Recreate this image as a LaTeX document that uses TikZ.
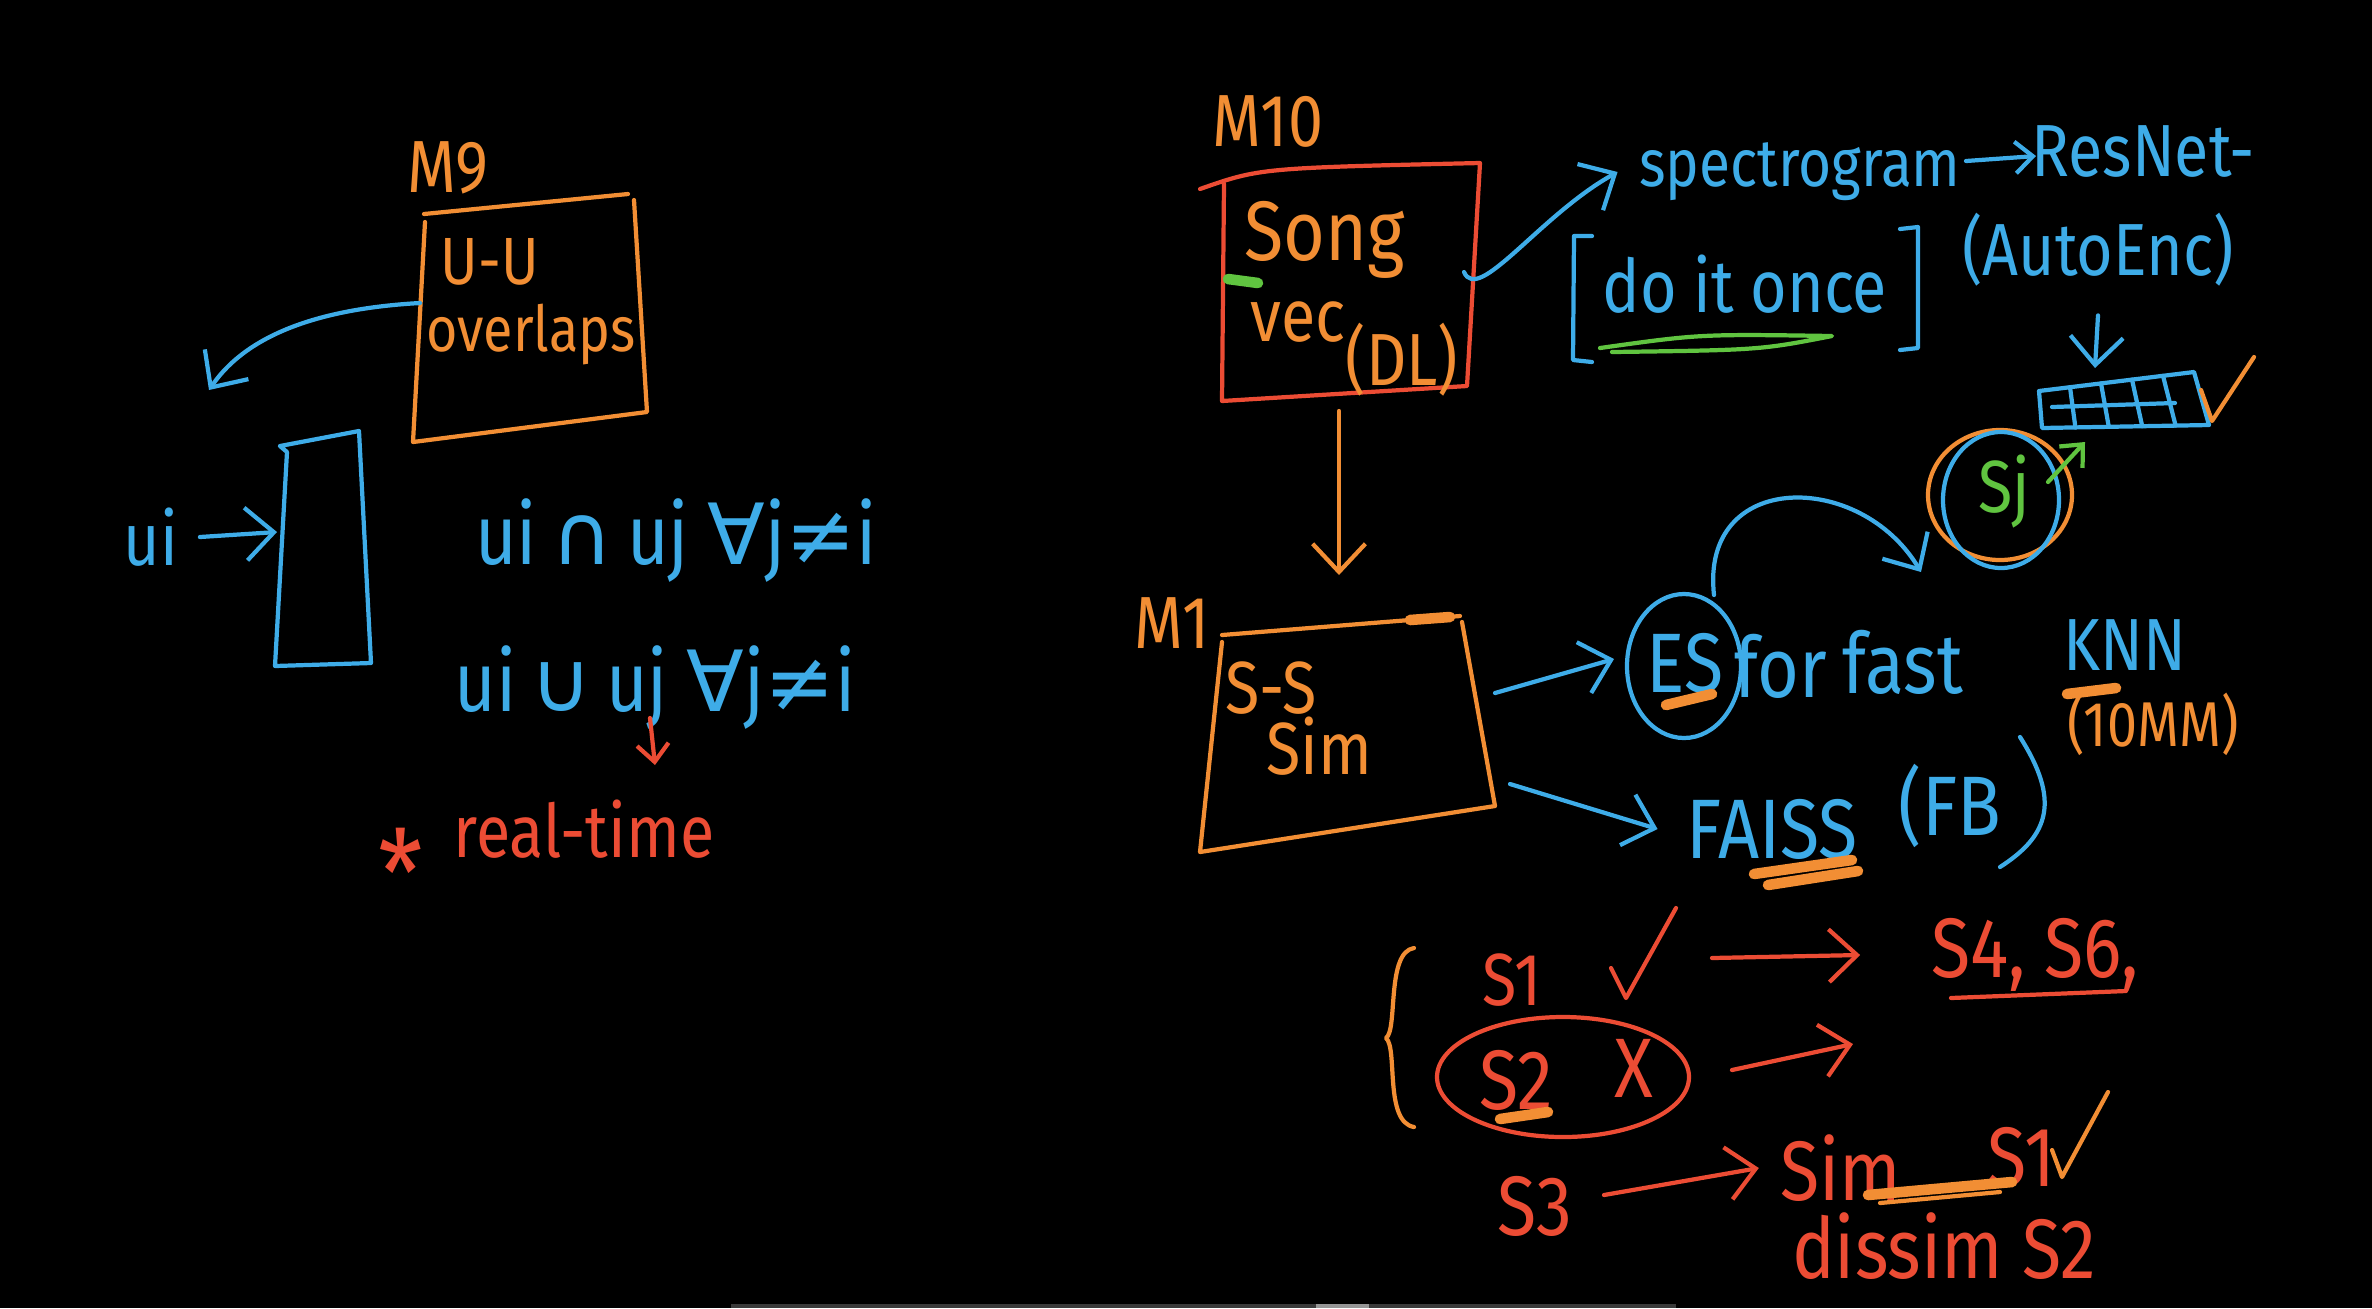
\documentclass[tikz,border=0pt]{standalone}
\usepackage{fontspec}
\setmainfont{Fira Sans}[FakeStretch=0.85]
\newfontfamily\symf{DejaVu Sans}
\usetikzlibrary{arrows.meta,calc}
\definecolor{cor}{RGB}{242,142,52}
\definecolor{cbl}{RGB}{62,172,232}
\definecolor{crd}{RGB}{236,76,52}
\definecolor{cgr}{RGB}{96,196,64}
\definecolor{cbar}{RGB}{58,58,58}
\definecolor{cbarl}{RGB}{150,150,150}
\begin{document}
\begin{tikzpicture}[x=0.01cm,y=-0.01cm,line cap=round,line join=round,
  pen/.style={line width=1.2pt},
  arr/.style={pen,-{Straight Barb[length=8pt,width=15pt]}},
  sarr/.style={pen,-{Straight Barb[length=5pt,width=9pt]}},
  hw/.style={inner sep=0pt,font=\fontsize{21}{24}\selectfont},
  hwl/.style={inner sep=0pt,font=\fontsize{24}{26}\selectfont},
  hwm/.style={inner sep=0pt,font=\fontsize{19}{21}\selectfont},
  hws/.style={inner sep=0pt,font=\fontsize{18}{20}\selectfont},
  hl/.style={line width=3pt}]
\fill[black] (0,0) rectangle (2372,1308);
\useasboundingbox (0,0) rectangle (2372,1308);
\fill[cbar] (731,1304) rectangle (1676,1308);
\fill[cbarl] (1316,1304) rectangle (1369,1308);

% ---------------- left: M9 ----------------
\node[hw,text=cor] (m9) at (448,168) {M9};
\coordinate (m9tl) at (424,214);
\coordinate (m9tr) at (628,194);
\coordinate (m9br) at (647,412);
\coordinate (m9bl) at (413,442);
\coordinate (m9l) at (420,303);
\draw[pen,cor] (m9tl) -- (m9tr);
\draw[pen,cor] (425,222) -- (m9bl) -- (m9br) -- (634,200);
\node[hwm,text=cor] (uu) at (490,262) {U-U};
\node[hws,text=cor] (ovl) at (531,334) {overlaps};

\coordinate (qtl) at (280,446);
\coordinate (qtr) at (359,431);
\coordinate (qbr) at (371,663);
\coordinate (qbl) at (275,666);
\coordinate (ql) at (277,532);
\coordinate (qarr) at (209,390);
\draw[arr,cbl] (m9l) .. controls (330,308) and (250,330) .. (qarr);
\draw[pen,cbl] (qtl) -- (qtr) -- (qbr) -- (qbl) -- (287,452) -- (qtl);

\node[hw,text=cbl] (ui) at (151,537) {ui};
\draw[arr,cbl] ([xshift=6pt]ui.east) -- (ql);

\node[hwl,text=cbl] (f1) at (676,541) {ui\,{\symf ∩}\,uj {\symf ∀}j{\symf ≠}i};
\node[hwl,text=cbl] (f2) at (655,688) {ui\,{\symf ∪}\,uj {\symf ∀}j{\symf ≠}i};
\coordinate (rtt) at (655,765);
\draw[sarr,crd] (650,718) -- (rtt);
\node[inner sep=0pt,font=\fontsize{34}{36}\selectfont,text=crd] (ast) at (401,872) {*};
\node[hw,text=crd] (rt) at (584,829) {real-time};

% ---------------- right top: M10 ----------------
\node[hw,text=cor] (m10) at (1268,121) {M10};
\coordinate (sbtl) at (1200,189);
\coordinate (sbtr) at (1480,163);
\coordinate (sbbr) at (1467,386);
\coordinate (sbbl) at (1222,401);
\coordinate (sbr) at (1464,272);
\coordinate (sbb) at (1339,411);
\draw[pen,crd] (sbtl) .. controls (1260,168) .. (sbtr) -- (sbbr) -- (sbbl) -- (1224,184);
\node[hwl,text=cor] (song) at (1325,240) {Song};
\node[hw,text=cor] (vec) at (1298,322) {vec};
\node[hw,text=cor] (dl) at (1402,360) {(DL)};
\draw[cgr,hl] (1228,279) -- (1258,283);

\node[hwm,text=cbl] (spec) at (1800,172) {spectrogram};
\draw[arr,cbl] (sbr) .. controls (1478,305) and (1540,215) .. ([xshift=-6pt]spec.west);
\node[hw,text=cbl] (res) at (2143,151) {ResNet-};
\coordinate (resa) at (2036,156);
\draw[sarr,cbl] (1966,161) -- (resa);

\node[hw,text=cbl] (once) at (1745,284) {do it once};
\draw[pen,cbl] (1592,236) -- (1574,236) -- (1573,360) -- (1592,362);
\draw[pen,cbl] (1900,229) -- (1918,227) -- (1918,348) -- (1900,350);
\draw[pen,cgr] (1600,348) .. controls (1700,334) .. (1832,336) .. controls (1760,350) .. (1612,352);

\node[hw,text=cbl] (ae) at (2098,250) {(AutoEnc)};
\coordinate (vtl) at (2039,391);
\coordinate (vtr) at (2194,372);
\coordinate (vbr) at (2209,425);
\coordinate (vbl) at (2042,428);
\draw[arr,cbl] ([yshift=-8pt]ae.south) -- (2095,368);
\draw[pen,cbl] (vtl) -- (vtr) -- (vbr) -- (vbl) -- cycle;
\foreach \f in {0.2,0.4,0.6,0.8}
  \draw[pen,cbl] ($(vtl)!\f!(vtr)$) -- ($(vbl)!\f!(vbr)$);
\draw[pen,cbl] (2052,407) -- (2175,403);
\draw[pen,cor] (2201,390) -- (2212,421) -- (2254,357);

\node[hw,text=cgr] (sj) at (2004,492) {Sj};
\draw[pen,cor] (2000,495) ellipse [x radius=72, y radius=65];
\draw[pen,cbl] (2001,500) ellipse [x radius=58, y radius=68];
\draw[sarr,cgr] (2048,482) -- (2085,442);

% ---------------- M1 ----------------
\coordinate (ssa) at (1339,575);
\draw[arr,cor] (sbb) -- (ssa);
\node[hw,text=cor] (m1) at (1172,623) {M1};
\coordinate (sstl) at (1222,635);
\coordinate (sstr) at (1460,616);
\coordinate (ssbr) at (1495,806);
\coordinate (ssbl) at (1200,852);
\draw[pen,cor] (sstl) -- (sstr);
\draw[cor,hl] (1410,620) -- (1450,617);
\draw[pen,cor] (1222,642) -- (ssbl) -- (ssbr) -- (1462,622);
\node[hw,text=cor] (ss) at (1271,688) {S-S};
\node[hw,text=cor] (sim) at (1319,746) {Sim};
\coordinate (ssr1) at (1495,693);
\coordinate (ssr2) at (1510,784);

\node[hwl,text=cbl] (es) at (1685,663) {ES};
\draw[pen,cbl] (1684,666) ellipse [x radius=57, y radius=72];
\draw[cor,hl] (1666,705) -- (1712,694);
\draw[arr,cbl] (ssr1) -- (1614,659);
\coordinate (arcend) at (1921,572);
\draw[arr,cbl] (1714,595) .. controls (1700,470) and (1860,470) .. (arcend);
\node[hwl,text=cbl] (for) at (1781,666) {for};
\node[hwl,text=cbl] (fast) at (1903,662) {fast};
\node[hw,text=cbl] (knn) at (2125,645) {KNN};
\draw[cor,hl] (2067,694) -- (2116,688);
\node[hws,text=cor] (tenmm) at (2153,724) {(10MM)};

\node[hwl,text=cbl] (faiss) at (1772,829) {FAISS};
\node[hwl,text=cbl] (fb) at (1950,806) {(FB};
\draw[pen,cbl] (2020,737) .. controls (2060,800) and (2050,835) .. (2000,867);
\draw[arr,cbl] (ssr2) -- ([xshift=-8pt]faiss.west);
\draw[cor,hl] (1754,874) -- (1852,860);
\draw[cor,hl] (1768,885) -- (1858,871);

% ---------------- bottom list ----------------
\draw[pen,cor] (1414,948) .. controls (1386,952) and (1398,1030) .. (1386,1038)
  .. controls (1398,1048) and (1384,1122) .. (1414,1127);
\node[hw,text=crd] (s1) at (1512,980) {S1};
\draw[pen,crd] (1611,968) -- (1626,998) -- (1676,908);
\node[hwl,text=crd] (s46) at (2035,955) {S4, S6,};
\draw[arr,crd] (1712,958) -- ([xshift=-20pt]s46.west);
\draw[pen,crd] (1951,998) -- (2126,991);

\node[hwl,text=crd] (s2) at (1516,1080) {S2};
\node[hwl,text=crd] (x) at (1634,1068) {X};
\draw[pen,crd] (1563,1077) ellipse [x radius=126, y radius=60];
\draw[cor,hl] (1500,1119) -- (1548,1112);
\coordinate (s2to) at (1853,1044);
\draw[arr,crd] (1732,1070) -- (s2to);

\node[hwl,text=crd] (s3) at (1535,1206) {S3};
\node[hwl,text=crd] (simb) at (1841,1168) {Sim};
\node[hwl,text=crd] (s1b) at (2022,1157) {S1};
\draw[arr,crd] (1604,1195) -- ([xshift=-6pt]simb.west);
\draw[pen,cor] (2052,1150) -- (2062,1177) -- (2108,1092);
\draw[cor,hl] (1868,1195) -- (2012,1182);
\draw[pen,cor] (1880,1203) -- (2000,1192);
\node[hwl,text=crd] (dis) at (1944,1246) {dissim S2};
\end{tikzpicture}
\end{document}
